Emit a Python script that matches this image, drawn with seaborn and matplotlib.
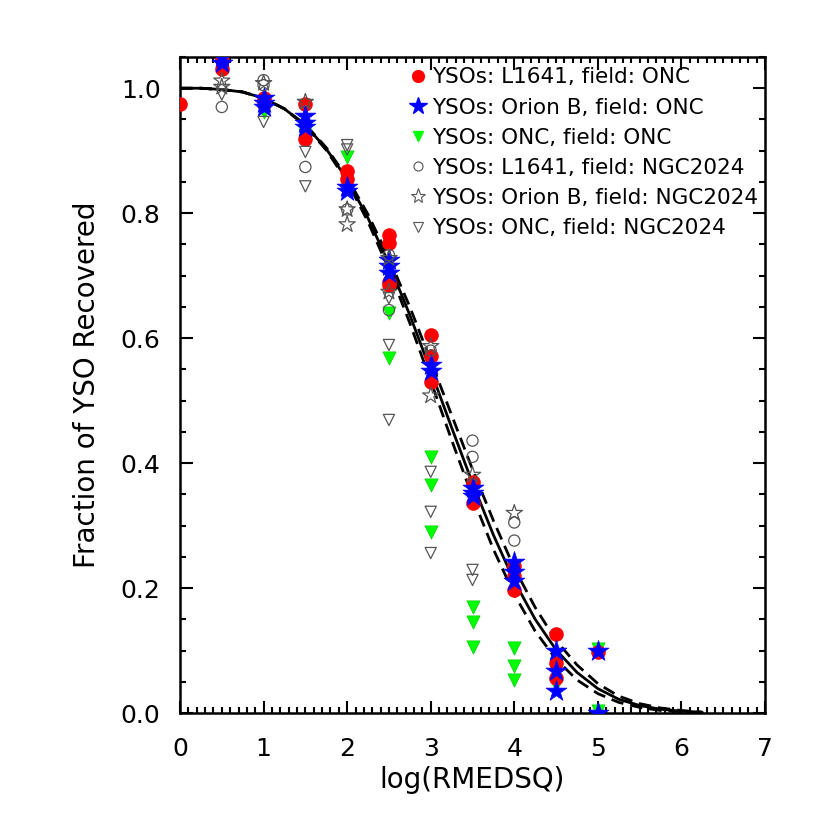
import numpy as np
import pandas as pd
import seaborn as sns
import matplotlib
matplotlib.use('Agg')
import matplotlib.pyplot as plt
from matplotlib.ticker import MultipleLocator, FormatStrFormatter
from matplotlib.lines import Line2D

# fitted recovery curve (solid) and its uncertainty band (dashed)
curve_x = [0.0, 0.25, 0.5, 0.75, 1.0, 1.25, 1.5, 1.75, 2.0, 2.25, 2.5, 2.75, 3.0,
           3.25, 3.5, 3.75, 4.0, 4.25, 4.5, 4.75, 5.0, 5.25, 5.5, 5.75, 6.0, 6.25]
curve_mid = [1.000, 1.000, 0.998, 0.994, 0.984, 0.967, 0.941, 0.903, 0.854, 0.792, 0.719, 0.637, 0.548,
             0.457, 0.368, 0.285, 0.211, 0.150, 0.101, 0.065, 0.039, 0.022, 0.012, 0.006, 0.003, 0.001]
curve_hi = [1.000, 1.000, 0.998, 0.994, 0.984, 0.967, 0.942, 0.905, 0.857, 0.798, 0.728, 0.650, 0.564,
            0.477, 0.390, 0.308, 0.232, 0.169, 0.116, 0.077, 0.047, 0.027, 0.015, 0.008, 0.004, 0.0015]
curve_lo = [1.000, 1.000, 0.998, 0.994, 0.984, 0.967, 0.940, 0.901, 0.851, 0.786, 0.710, 0.624, 0.532,
            0.437, 0.346, 0.262, 0.190, 0.131, 0.086, 0.053, 0.031, 0.017, 0.009, 0.004, 0.002, 0.0007]

# YSOs: L1641, field: ONC
l1641_onc_x = [0.0, 0.5, 0.5, 1.0, 1.0, 1.5, 1.5, 2.0, 2.0, 2.5, 2.5, 2.5, 2.5, 3.0, 3.0, 3.0,
               3.5, 3.5, 4.0, 4.0, 4.0, 4.5, 4.5, 4.5, 5.0]
l1641_onc_y = [0.975, 1.045, 1.031, 0.985, 0.975, 0.975, 0.918, 0.868, 0.855, 0.765, 0.752, 0.690, 0.685,
               0.605, 0.571, 0.530, 0.370, 0.336, 0.235, 0.220, 0.197, 0.126, 0.080, 0.056, 0.098]

# YSOs: Orion B, field: ONC
orionb_onc_x = [0.5, 0.5, 1.0, 1.0, 1.0, 1.5, 1.5, 1.5, 2.0, 2.0, 2.5, 2.5, 2.5, 3.0, 3.0,
                3.5, 3.5, 3.5, 4.0, 4.0, 4.0, 4.5, 4.5, 4.5, 5.0, 5.0]
orionb_onc_y = [1.050, 1.040, 0.985, 0.976, 0.970, 0.955, 0.945, 0.938, 0.842, 0.835, 0.725, 0.715, 0.705,
                0.557, 0.548, 0.360, 0.352, 0.347, 0.242, 0.225, 0.212, 0.100, 0.068, 0.035, 0.099, 0.0]

# YSOs: ONC, field: ONC
onc_onc_x = [0.5, 1.0, 1.5, 2.0, 2.5, 2.5, 3.0, 3.0, 3.0, 3.5, 3.5, 3.5, 4.0, 4.0, 4.0, 4.5, 5.0, 5.0]
onc_onc_y = [1.035, 0.962, 0.925, 0.890, 0.640, 0.568, 0.410, 0.365, 0.290, 0.170, 0.146, 0.106,
             0.104, 0.075, 0.053, 0.045, 0.102, 0.004]

# YSOs: L1641, field: NGC2024
l1641_ngc_x = [0.5, 1.0, 1.0, 1.5, 2.0, 2.5, 2.5, 3.0, 3.5, 3.5, 4.0, 4.0]
l1641_ngc_y = [0.970, 1.013, 1.005, 0.874, 0.806, 0.733, 0.645, 0.580, 0.436, 0.410, 0.305, 0.276]

# YSOs: Orion B, field: NGC2024
orionb_ngc_x = [0.5, 0.5, 1.0, 1.5, 2.0, 2.0, 2.5, 2.5, 3.0, 3.0, 3.5, 4.0]
orionb_ngc_y = [1.012, 1.002, 1.008, 0.978, 0.806, 0.782, 0.728, 0.674, 0.587, 0.508, 0.381, 0.320]

# YSOs: ONC, field: NGC2024
onc_ngc_x = [0.5, 1.0, 1.5, 1.5, 2.0, 2.0, 2.5, 2.5, 2.5, 3.0, 3.0, 3.0, 3.5, 3.5]
onc_ngc_y = [0.990, 0.946, 0.898, 0.843, 0.909, 0.902, 0.664, 0.589, 0.469, 0.386, 0.322, 0.256,
             0.229, 0.213]

sns.set_style("ticks")
plt.rcParams['font.family'] = ['DejaVu Sans']
for key in ["text.color", "axes.labelcolor", "xtick.color", "ytick.color", "axes.edgecolor"]:
    plt.rcParams[key] = "black"

fig = plt.figure(figsize=(8.3, 8.3), dpi=100)
ax = fig.add_axes([180 / 830, 1 - 713 / 830, 585 / 830, 656 / 830])

curves = pd.DataFrame({"x": curve_x, "mid": curve_mid, "hi": curve_hi, "lo": curve_lo})
sns.lineplot(data=curves, x="x", y="mid", color="black", linewidth=2, ax=ax, zorder=2)
for col in ["hi", "lo"]:
    sns.lineplot(data=curves, x="x", y=col, color="black", linewidth=2,
                 linestyle=(0, (4.5, 2.5)), ax=ax, zorder=2)

gray = "#555555"
series = [
    (onc_onc_x, onc_onc_y, "v", 90, "#00ff00", "#00cc00", 0.5),
    (l1641_onc_x, l1641_onc_y, "o", 110, "#ff0000", "#ff0000", 0.0),
    (orionb_onc_x, orionb_onc_y, "*", 250, "#0000ff", "#0000ff", 0.5),
    (l1641_ngc_x, l1641_ngc_y, "o", 65, "none", gray, 0.9),
    (orionb_ngc_x, orionb_ngc_y, "*", 150, "none", gray, 0.9),
    (onc_ngc_x, onc_ngc_y, "v", 65, "none", gray, 0.9),
]
for xs, ys, m, s, face, edge, lw in series:
    sns.scatterplot(x=xs, y=ys, marker=m, s=s, color=edge, facecolors=face,
                    edgecolor=edge, linewidth=lw, ax=ax, legend=False, zorder=3)

handles = [
    Line2D([], [], ls="none", marker="o", ms=8.5, mfc="#ff0000", mec="#ff0000"),
    Line2D([], [], ls="none", marker="*", ms=13, mfc="#0000ff", mec="#0000ff"),
    Line2D([], [], ls="none", marker="v", ms=7.5, mfc="#00ff00", mec="#00ff00"),
    Line2D([], [], ls="none", marker="o", ms=6.5, mfc="none", mec=gray, mew=0.8),
    Line2D([], [], ls="none", marker="*", ms=11, mfc="none", mec=gray, mew=0.8),
    Line2D([], [], ls="none", marker="v", ms=6.5, mfc="none", mec=gray, mew=0.8),
]
labels = ["YSOs: L1641, field: ONC", "YSOs: Orion B, field: ONC", "YSOs: ONC, field: ONC",
          "YSOs: L1641, field: NGC2024", "YSOs: Orion B, field: NGC2024", "YSOs: ONC, field: NGC2024"]
ax.legend(handles, labels, loc="upper left", bbox_to_anchor=(0.392, 0.984), frameon=False,
          fontsize=15.5, handlelength=0.8, handletextpad=0.25, labelspacing=0.47,
          borderpad=0, borderaxespad=0)

ax.set_xlim(0, 7)
ax.set_ylim(0, 1.05)
ax.xaxis.set_major_locator(MultipleLocator(1))
ax.xaxis.set_minor_locator(MultipleLocator(0.1))
ax.yaxis.set_major_locator(MultipleLocator(0.2))
ax.yaxis.set_minor_locator(MultipleLocator(0.05))
ax.yaxis.set_major_formatter(FormatStrFormatter("%.1f"))
ax.tick_params(which="both", direction="in", top=True, right=True, width=1.5, labelsize=18)
ax.tick_params(which="major", length=9)
ax.tick_params(which="minor", length=4.5)
ax.tick_params(axis="x", pad=17)
ax.tick_params(axis="y", pad=14)
for sp in ax.spines.values():
    sp.set_linewidth(1.8)

ax.set_xlabel("log(RMEDSQ)", fontsize=20, labelpad=4)
ax.set_ylabel("Fraction of YSO Recovered", fontsize=20, labelpad=14)

fig.savefig("out.png", dpi=100)
